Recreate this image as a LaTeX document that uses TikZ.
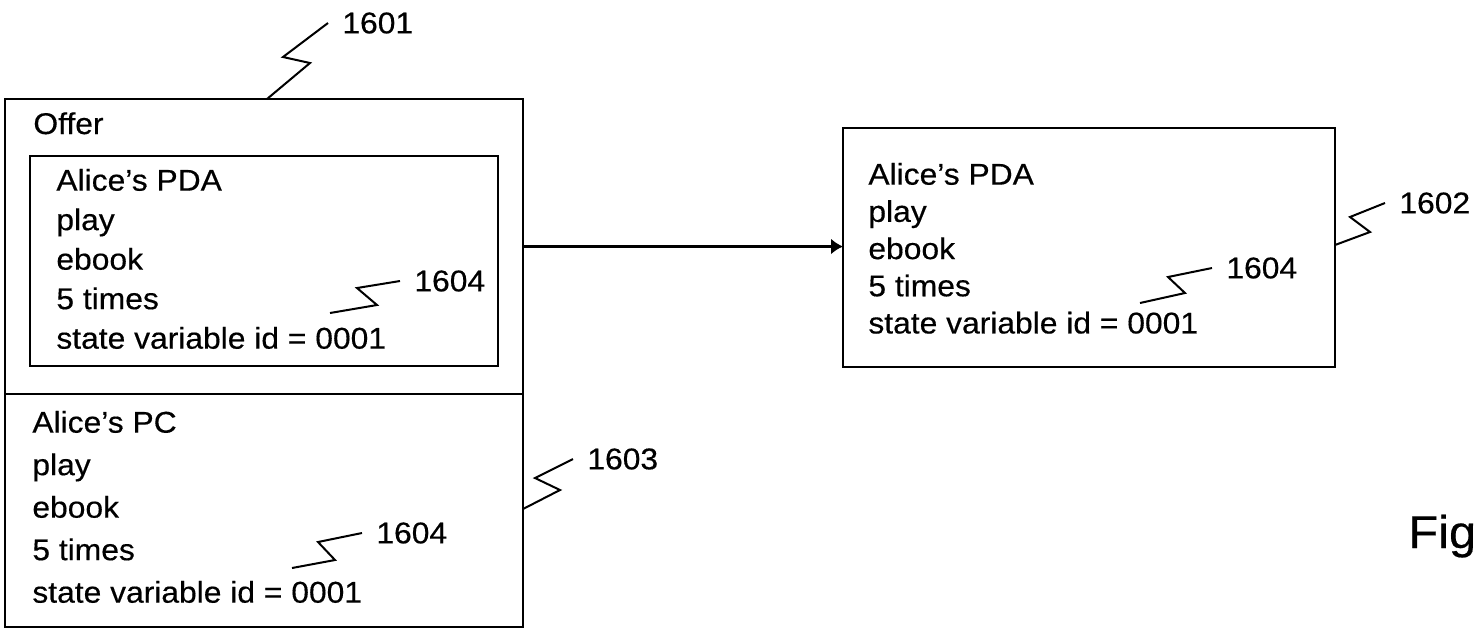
\documentclass[tikz,border=0pt]{standalone}
\usepackage{fontspec}
\setmainfont{Liberation Sans}[FakeStretch=1.06, FakeBold=0.4]
\usetikzlibrary{positioning,arrows.meta}
\tikzset{
	rectbox/.style={rectangle, draw=black, line width=1.3pt, inner sep=0pt, outer sep=0pt, anchor=north west},
	boxtext/.style={align=left, inner sep=0pt, anchor=north west, font=\fontsize{15pt}{#1}\selectfont},
	boxtext/.default=19.75pt,
	refnum/.style={anchor=west, inner xsep=7pt, inner ysep=0pt, font=\fontsize{15pt}{18pt}\selectfont},
	zigline/.style={line width=1pt, line join=miter}
}

\begin{document}
\begin{tikzpicture}[x=0.5pt, y=-0.5pt]
		\useasboundingbox (0,0) rectangle (1477,629);
		%boxes
		\node[rectbox, minimum width=259pt, minimum height=147.5pt] at (5,99) (offer) {};
		\node[rectbox, minimum width=259pt, minimum height=116.5pt, below=0pt of offer] (offpc) {};
		\node[rectbox, minimum width=234pt, minimum height=105pt] at (30,156) (offpda) {};
		\node[rectbox, minimum width=246pt, minimum height=119.5pt] at (843,128) (dev) {};
		
		%texts
		\node[boxtext, anchor=base west] at (33,134) (offertxt) {Offer};
		\node[boxtext=19.75pt] at (56,168.5) (offpdatxt) {Alice’s PDA\\play\\ebook\\5 times\\state variable id = 0001};
		\node[boxtext=21.25pt] at (32,410.5) (offpctxt) {Alice’s PC\\play\\ebook\\5 times\\state variable id = 0001};
		\node[boxtext=18.6pt] at (868,162.5) (devtxt) {Alice’s PDA\\play\\ebook\\5 times\\state variable id = 0001};
		\node[anchor=base west, inner sep=0pt, font=\fontsize{23pt}{27pt}\selectfont] at (1408,548) (fig) {Fig};
		
		%Lines
		\draw[-{Latex[length=6pt,width=8pt]}, line width=1.2pt] (offer.east) -- (offer.east -| dev.west);
		
		%reference numerals
		\node[refnum] at (328,23) (r1601) {1601};
		\node[refnum] at (1385,203) (r1602) {1602};
		\node[refnum] at (573,459) (r1603) {1603};
		\node[refnum] at (400,281) (r1604a) {1604};
		\node[refnum] at (1212,268) (r1604b) {1604};
		\node[refnum] at (362,533) (r1604c) {1604};
		\coordinate (za) at (330,313);
		\coordinate (zb) at (1140,303);
		\coordinate (zc) at (292,568);
		
		\draw[zigline] (offer.north -| 267,0) -- (310,63) -- (283,57) -- (r1601.west);
		\draw[zigline] (dev.east |- 0,245) -- (1370,232) -- (1350,217) -- (r1602.west);
		\draw[zigline] (offpc.east |- 0,509) -- (560,490) -- (535,478) -- (r1603.west);
		\draw[zigline] (za) -- (377,305) -- (357,288) -- (r1604a.west);
		\draw[zigline] (zb) -- (1185,293) -- (1168,277) -- (r1604b.west);
		\draw[zigline] (zc) -- (335,560) -- (318,542) -- (r1604c.west);
	\end{tikzpicture}
\end{document}
